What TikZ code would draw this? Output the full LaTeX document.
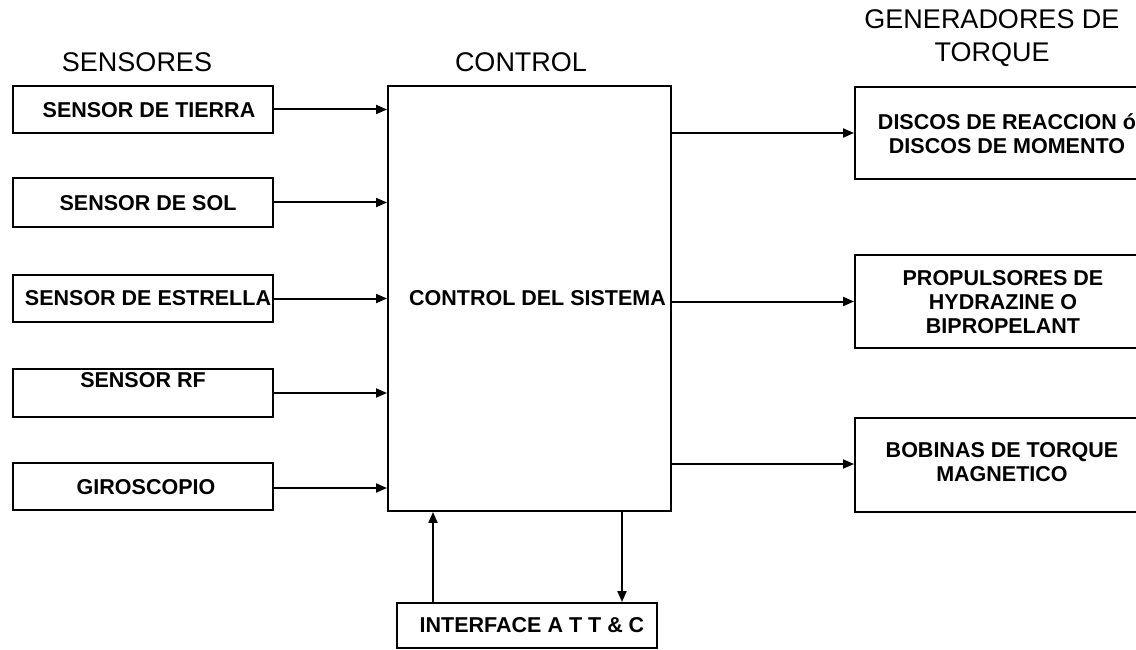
\documentclass[tikz,border=0pt]{standalone}
\usepackage{fontspec}
\setmainfont{Liberation Sans}
\usetikzlibrary{arrows.meta}
\tikzset{
  box/.style={draw, line width=1.9pt, inner sep=0pt},
  btxt/.style={font=\bfseries\fontsize{21.5}{24}\selectfont, inner sep=0pt, align=center},
  head/.style={font=\fontsize{27}{33}\selectfont, inner sep=0pt, align=center},
  arr/.style={line width=2pt, -{Triangle[length=11pt,width=9pt]}}
}
\begin{document}
\begin{tikzpicture}[x=1pt,y=-1pt]
\useasboundingbox (0,0) rectangle (1136,650);
\clip (0,0) rectangle (1136,650);
% headers
\node[head] (hs) at (137,62) {SENSORES};
\node[head] (hc) at (521,62) {CONTROL};
\node[head] (hg) at (992,38.5) {GENERADORES DE\\TORQUE};
% sensor boxes
\node[box, minimum width=260pt, minimum height=47pt] (s1) at (143,109.5) {};
\node[btxt] (t1) at (149,110) {SENSOR DE TIERRA};
\node[box, minimum width=260pt, minimum height=49pt] (s2) at (143,202.5) {};
\node[btxt] (t2) at (148,203) {SENSOR DE SOL};
\node[box, minimum width=260pt, minimum height=47pt] (s3) at (143,298.5) {};
\node[btxt] (t3) at (148,298) {SENSOR DE ESTRELLA};
\node[box, minimum width=260pt, minimum height=48pt] (s4) at (143,393) {};
\node[btxt] (t4) at (143,380) {SENSOR RF};
\node[box, minimum width=260pt, minimum height=47pt] (s5) at (143,486.5) {};
\node[btxt] (t5) at (146,487) {GIROSCOPIO};
% control
\node[box, minimum width=283pt, minimum height=425pt] (ctrl) at (529.5,298.5) {};
\node[btxt] (tc) at (537.5,298) {CONTROL DEL SISTEMA};
% torque generators
\node[box, minimum width=290pt, minimum height=92pt] (g1) at (1000,133) {};
\node[btxt] (tg1) at (1007,134) {DISCOS DE REACCION ó\\DISCOS DE MOMENTO};
\node[box, minimum width=290pt, minimum height=93pt] (g2) at (1000,301.5) {};
\node[btxt] (tg2) at (1003,302) {PROPULSORES DE\\HYDRAZINE O\\BIPROPELANT};
\node[box, minimum width=290pt, minimum height=94pt] (g3) at (1000,465) {};
\node[btxt] (tg3) at (1002,462) {BOBINAS DE TORQUE\\MAGNETICO};
% interface
\node[box, minimum width=260pt, minimum height=45pt] (iface) at (527,625.5) {};
\node[btxt] (ti) at (532,625) {INTERFACE A T T \& C};
% connectors
\foreach \s in {s1,s2,s3,s4}
  \draw[arr] (\s.east) -- (\s.east -| ctrl.west);
\draw[arr] ([yshift=-1.5pt]s5.east) -- ([yshift=-1.5pt]s5.east -| ctrl.west);
\draw[arr] (ctrl.east |- g1.west) -- (g1.west);
\draw[arr] (ctrl.east |- g2.west) -- (g2.west);
\draw[arr] ([yshift=1pt]ctrl.east |- g3.west) -- ([yshift=1pt]g3.west);
\draw[arr] ([xshift=-94pt]iface.north) -- ([xshift=-94pt]iface.north |- ctrl.south);
\draw[arr] ([xshift=95pt]iface.north |- ctrl.south) -- ([xshift=95pt]iface.north);
\end{tikzpicture}
\end{document}
